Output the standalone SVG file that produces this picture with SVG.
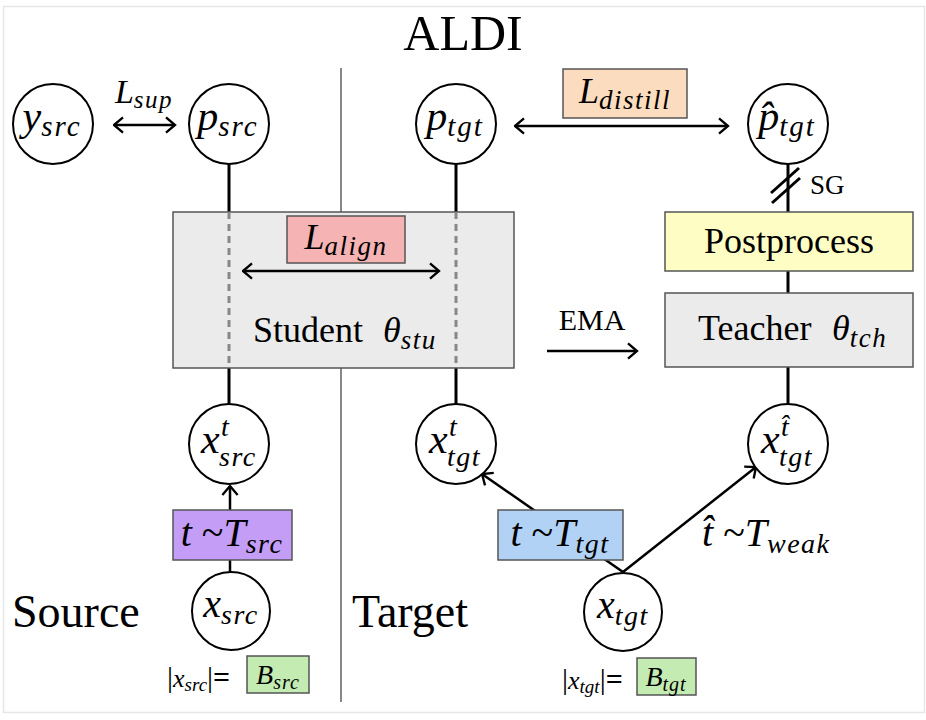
<svg xmlns="http://www.w3.org/2000/svg" width="926" height="720" viewBox="0 0 926 720">
<defs>
<style>
.rm{font-family:"Liberation Serif",serif;fill:#000}
.it{font-family:"Liberation Serif",serif;font-style:italic;fill:#000}
.node{fill:#fff;stroke:#000;stroke-width:2}
.ln{stroke:#000;stroke-width:3;fill:none}
.dash{stroke:#888;stroke-width:3;stroke-dasharray:7,5;fill:none}
.box{stroke:#555;stroke-width:1.5}
.arr{stroke:#000;stroke-width:2.5;fill:none}
</style>
<marker id="ah" viewBox="0 0 12 20" markerWidth="12" markerHeight="18" refX="11" refY="10" markerUnits="userSpaceOnUse" orient="auto-start-reverse">
<path d="M1,1.5 L11,10 L1,18.5" fill="none" stroke="#000" stroke-width="2.6"/>
</marker>
</defs>
<rect x="3.5" y="6.5" width="921" height="706" fill="#fff" stroke="#e6e6e6" stroke-width="1.5"/>
<text class="rm" x="463" y="50" font-size="50" text-anchor="middle">ALDI</text>
<line x1="341" y1="68" x2="341" y2="702" stroke="#888" stroke-width="2"/>
<text class="rm" x="12" y="627" font-size="46">Source</text>
<text class="rm" x="352" y="627" font-size="46">Target</text>

<g id="connectors">
<line class="ln" x1="229" y1="164" x2="229" y2="212"/>
<line class="ln" x1="229" y1="368" x2="229" y2="404"/>
<line class="ln" x1="456" y1="164" x2="456" y2="212"/>
<line class="ln" x1="456" y1="368" x2="456" y2="404"/>
<line class="ln" x1="788" y1="164" x2="788" y2="212"/>
<line class="ln" x1="788" y1="271" x2="788" y2="293"/>
<line class="ln" x1="788" y1="367" x2="788" y2="404"/>
<line class="ln" x1="771" y1="193" x2="799" y2="168" stroke-width="2.2"/>
<line class="ln" x1="772" y1="203" x2="800" y2="178" stroke-width="2.2"/>
<line class="arr" x1="230" y1="572" x2="230" y2="486" marker-end="url(#ah)"/>
<line class="arr" x1="623" y1="572" x2="482" y2="474" marker-end="url(#ah)"/>
<line class="arr" x1="623" y1="572" x2="756" y2="467" marker-end="url(#ah)"/>
<line class="arr" x1="114" y1="125" x2="175" y2="125" marker-start="url(#ah)" marker-end="url(#ah)"/>
<line class="arr" x1="515" y1="126" x2="728" y2="126" marker-start="url(#ah)" marker-end="url(#ah)"/>
<line class="arr" x1="547" y1="351" x2="637" y2="351" marker-end="url(#ah)"/>
</g>

<g id="L_sup">
<text class="it" x="144" y="103" font-size="34" text-anchor="middle">L<tspan font-size="25" dy="5" letter-spacing="1.5">sup</tspan></text>
</g>

<g id="student">
<rect class="box" x="173" y="212" width="341" height="156" fill="#ebebeb"/>
<line class="dash" x1="229" y1="212" x2="229" y2="368"/>
<line class="dash" x1="456" y1="212" x2="456" y2="368"/>
<text class="rm" x="253" y="342" font-size="36">Student</text>
<text class="it" x="383" y="342" font-size="36">θ<tspan font-size="27" dy="7" letter-spacing="1.5">stu</tspan></text>
</g>

<g id="L_align">
<rect class="box" x="287" y="216" width="118" height="47" fill="#f5b3b3"/>
<text class="it" x="346" y="249" font-size="36" text-anchor="middle">L<tspan font-size="27" dy="6" letter-spacing="1.5">align</tspan></text>
<line class="arr" x1="243" y1="271" x2="439" y2="271" marker-start="url(#ah)" marker-end="url(#ah)"/>
</g>

<g id="L_distill">
<rect class="box" x="563" y="69" width="124" height="49" fill="#fcdcbf"/>
<text class="it" x="625" y="103" font-size="36" text-anchor="middle">L<tspan font-size="27" dy="6" letter-spacing="1.5">distill</tspan></text>
</g>

<g id="postprocess">
<rect class="box" x="665" y="212" width="248" height="59" fill="#fefec4"/>
<text class="rm" x="789" y="253" font-size="36" text-anchor="middle">Postprocess</text>
</g>

<g id="teacher">
<rect class="box" x="665" y="293" width="248" height="74" fill="#ebebeb"/>
<text class="rm" x="698" y="340" font-size="36">Teacher</text>
<text class="it" x="832" y="340" font-size="36">θ<tspan font-size="27" dy="7" letter-spacing="1.5">tch</tspan></text>
</g>

<g id="EMA">
<text class="rm" x="592" y="330" font-size="30" text-anchor="middle">EMA</text>
</g>

<g id="SG">
<text class="rm" x="810" y="194" font-size="27">SG</text>
</g>

<g id="y_src">
<circle class="node" cx="53" cy="124" r="40"/>
<text class="it" x="52" y="130" font-size="42" text-anchor="middle">y<tspan font-size="29" dy="6" letter-spacing="2">src</tspan></text>
</g>
<g id="p_src">
<circle class="node" cx="229" cy="124" r="40"/>
<text class="it" x="228" y="130" font-size="42" text-anchor="middle">p<tspan font-size="29" dy="6" letter-spacing="2">src</tspan></text>
</g>
<g id="p_tgt">
<circle class="node" cx="456" cy="124" r="40"/>
<text class="it" x="455" y="130" font-size="42" text-anchor="middle">p<tspan font-size="29" dy="6" letter-spacing="2">tgt</tspan></text>
</g>
<g id="p_hat_tgt">
<circle class="node" cx="788" cy="124" r="40"/>
<text class="it" x="787" y="130" font-size="42" text-anchor="middle">p̂<tspan font-size="29" dy="6" letter-spacing="2">tgt</tspan></text>
</g>

<g id="x_t_src">
<circle class="node" cx="229" cy="444" r="40"/>
<text class="it" x="201" y="453" font-size="42">x</text>
<text class="it" x="221" y="436" font-size="28">t</text>
<text class="it" x="219" y="466" font-size="28" letter-spacing="1.5">src</text>
</g>
<g id="x_t_tgt">
<circle class="node" cx="456" cy="444" r="40"/>
<text class="it" x="429" y="453" font-size="42">x</text>
<text class="it" x="449" y="436" font-size="28">t</text>
<text class="it" x="447" y="466" font-size="28" letter-spacing="1.5">tgt</text>
</g>
<g id="x_that_tgt">
<circle class="node" cx="788" cy="444" r="40"/>
<text class="it" x="761" y="453" font-size="42">x</text>
<text class="it" x="781" y="436" font-size="28">t̂</text>
<text class="it" x="779" y="466" font-size="28" letter-spacing="1.5">tgt</text>
</g>

<g id="T_src">
<rect class="box" x="173" y="510" width="119" height="50" fill="#c49ef6"/>
<text class="it" x="232" y="546" font-size="40" text-anchor="middle">t<tspan class="rm" font-style="normal"> ~</tspan>T<tspan font-size="28" dy="7" letter-spacing="1.5">src</tspan></text>
</g>
<g id="T_tgt">
<rect class="box" x="498" y="510" width="125" height="50" fill="#b2d2f5"/>
<text class="it" x="560" y="546" font-size="40" text-anchor="middle">t<tspan class="rm" font-style="normal"> ~</tspan>T<tspan font-size="28" dy="7" letter-spacing="1.5">tgt</tspan></text>
</g>
<g id="T_weak">
<text class="it" x="702" y="546" font-size="40">t̂<tspan class="rm" font-style="normal"> ~</tspan>T<tspan font-size="28" dy="7" letter-spacing="1.5">weak</tspan></text>
</g>

<g id="x_src">
<circle class="node" cx="231" cy="611" r="39"/>
<text class="it" x="231" y="617" font-size="40" text-anchor="middle">x<tspan font-size="28" dy="7" letter-spacing="1.5">src</tspan></text>
<text class="rm" x="167" y="687" font-size="30">|<tspan class="it" font-size="26">x</tspan><tspan class="it" font-size="19" dy="4">src</tspan><tspan dy="-4">|</tspan><tspan font-weight="bold">=</tspan></text>
<rect class="box" x="247" y="656" width="62" height="37" fill="#c3ebb2"/>
<text class="it" x="278" y="684" font-size="28" text-anchor="middle">B<tspan font-size="20" dy="5" letter-spacing="1">src</tspan></text>
</g>
<g id="x_tgt">
<circle class="node" cx="623" cy="612" r="39"/>
<text class="it" x="623" y="618" font-size="40" text-anchor="middle">x<tspan font-size="28" dy="7" letter-spacing="1.5">tgt</tspan></text>
<text class="rm" x="562" y="689" font-size="30">|<tspan class="it" font-size="26">x</tspan><tspan class="it" font-size="19" dy="4">tgt</tspan><tspan dy="-4">|</tspan><tspan font-weight="bold">=</tspan></text>
<rect class="box" x="637" y="658" width="59" height="37" fill="#c3ebb2"/>
<text class="it" x="666" y="686" font-size="28" text-anchor="middle">B<tspan font-size="20" dy="5" letter-spacing="1">tgt</tspan></text>
</g>
</svg>
